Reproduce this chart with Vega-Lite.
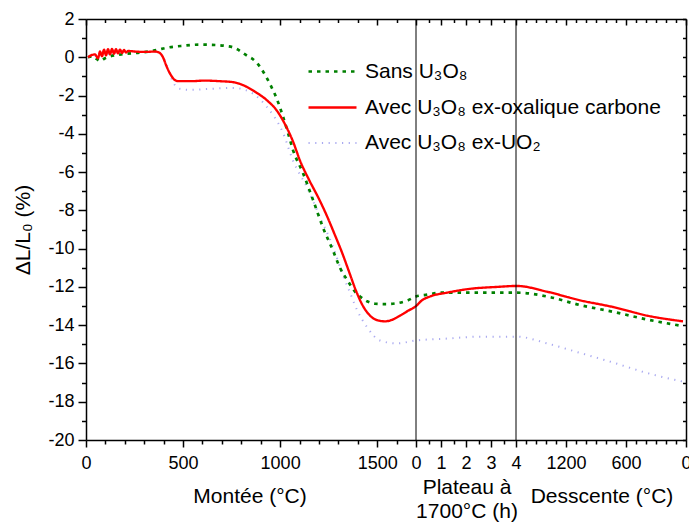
{
  "$schema": "https://vega.github.io/schema/vega-lite/v6.json",
  "width": 600,
  "height": 421,
  "autosize": {"type": "none"},
  "padding": {"left": 86, "top": 19, "right": 3, "bottom": 83},
  "background": "white",
  "config": {
    "view": {"stroke": null},
    "font": "Liberation Sans",
    "axis": {
      "domainColor": "black", "domainWidth": 1.5,
      "tickColor": "black", "tickWidth": 1.5,
      "labelColor": "black", "labelFont": "Liberation Sans", "labelFontSize": 18,
      "titleFont": "Liberation Sans", "titleFontSize": 21, "titleFontWeight": "normal", "titleColor": "black",
      "grid": false, "labelOverlap": false, "labelFlush": false, "labelBound": false
    }
  },
  "datasets": {
    "curves": [
      {"s": "Avec U₃O₈ ex-UO₂", "x": 2, "y": 0.0},
      {"s": "Avec U₃O₈ ex-UO₂", "x": 14, "y": 0.12},
      {"s": "Avec U₃O₈ ex-UO₂", "x": 44, "y": 0.28},
      {"s": "Avec U₃O₈ ex-UO₂", "x": 72, "y": 0.28},
      {"s": "Avec U₃O₈ ex-UO₂", "x": 77, "y": 0.0},
      {"s": "Avec U₃O₈ ex-UO₂", "x": 82, "y": -0.6},
      {"s": "Avec U₃O₈ ex-UO₂", "x": 87, "y": -1.3},
      {"s": "Avec U₃O₈ ex-UO₂", "x": 94, "y": -1.65},
      {"s": "Avec U₃O₈ ex-UO₂", "x": 104, "y": -1.7},
      {"s": "Avec U₃O₈ ex-UO₂", "x": 124, "y": -1.65},
      {"s": "Avec U₃O₈ ex-UO₂", "x": 147, "y": -1.6},
      {"s": "Avec U₃O₈ ex-UO₂", "x": 159, "y": -1.7},
      {"s": "Avec U₃O₈ ex-UO₂", "x": 167, "y": -1.9},
      {"s": "Avec U₃O₈ ex-UO₂", "x": 181, "y": -2.6},
      {"s": "Avec U₃O₈ ex-UO₂", "x": 197, "y": -3.95},
      {"s": "Avec U₃O₈ ex-UO₂", "x": 207, "y": -5.4},
      {"s": "Avec U₃O₈ ex-UO₂", "x": 221, "y": -6.8},
      {"s": "Avec U₃O₈ ex-UO₂", "x": 234, "y": -8.35},
      {"s": "Avec U₃O₈ ex-UO₂", "x": 247, "y": -9.9},
      {"s": "Avec U₃O₈ ex-UO₂", "x": 257, "y": -11.4},
      {"s": "Avec U₃O₈ ex-UO₂", "x": 264, "y": -12.3},
      {"s": "Avec U₃O₈ ex-UO₂", "x": 271, "y": -13.2},
      {"s": "Avec U₃O₈ ex-UO₂", "x": 281, "y": -14.1},
      {"s": "Avec U₃O₈ ex-UO₂", "x": 294, "y": -14.8},
      {"s": "Avec U₃O₈ ex-UO₂", "x": 311, "y": -14.95},
      {"s": "Avec U₃O₈ ex-UO₂", "x": 330, "y": -14.8},
      {"s": "Avec U₃O₈ ex-UO₂", "x": 361, "y": -14.7},
      {"s": "Avec U₃O₈ ex-UO₂", "x": 394, "y": -14.6},
      {"s": "Avec U₃O₈ ex-UO₂", "x": 431, "y": -14.6},
      {"s": "Avec U₃O₈ ex-UO₂", "x": 461, "y": -14.95},
      {"s": "Avec U₃O₈ ex-UO₂", "x": 494, "y": -15.45},
      {"s": "Avec U₃O₈ ex-UO₂", "x": 527, "y": -15.95},
      {"s": "Avec U₃O₈ ex-UO₂", "x": 561, "y": -16.5},
      {"s": "Avec U₃O₈ ex-UO₂", "x": 597, "y": -16.95},

      {"s": "Sans U₃O₈", "x": 2, "y": 0.0},
      {"s": "Sans U₃O₈", "x": 7, "y": 0.05},
      {"s": "Sans U₃O₈", "x": 11, "y": -0.1},
      {"s": "Sans U₃O₈", "x": 14, "y": -0.2},
      {"s": "Sans U₃O₈", "x": 19, "y": -0.05},
      {"s": "Sans U₃O₈", "x": 24, "y": 0.05},
      {"s": "Sans U₃O₈", "x": 37, "y": 0.16},
      {"s": "Sans U₃O₈", "x": 57, "y": 0.26},
      {"s": "Sans U₃O₈", "x": 71, "y": 0.38},
      {"s": "Sans U₃O₈", "x": 81, "y": 0.5},
      {"s": "Sans U₃O₈", "x": 97, "y": 0.6},
      {"s": "Sans U₃O₈", "x": 113, "y": 0.66},
      {"s": "Sans U₃O₈", "x": 130, "y": 0.64},
      {"s": "Sans U₃O₈", "x": 141, "y": 0.58},
      {"s": "Sans U₃O₈", "x": 147, "y": 0.52},
      {"s": "Sans U₃O₈", "x": 152, "y": 0.4},
      {"s": "Sans U₃O₈", "x": 157, "y": 0.22},
      {"s": "Sans U₃O₈", "x": 162, "y": 0.05},
      {"s": "Sans U₃O₈", "x": 167, "y": -0.1},
      {"s": "Sans U₃O₈", "x": 174, "y": -0.5},
      {"s": "Sans U₃O₈", "x": 181, "y": -1.1},
      {"s": "Sans U₃O₈", "x": 184, "y": -1.4},
      {"s": "Sans U₃O₈", "x": 191, "y": -2.2},
      {"s": "Sans U₃O₈", "x": 197, "y": -3.1},
      {"s": "Sans U₃O₈", "x": 202, "y": -3.95},
      {"s": "Sans U₃O₈", "x": 207, "y": -4.85},
      {"s": "Sans U₃O₈", "x": 217, "y": -6.05},
      {"s": "Sans U₃O₈", "x": 227, "y": -7.45},
      {"s": "Sans U₃O₈", "x": 237, "y": -8.9},
      {"s": "Sans U₃O₈", "x": 247, "y": -10.1},
      {"s": "Sans U₃O₈", "x": 254, "y": -11.0},
      {"s": "Sans U₃O₈", "x": 262, "y": -11.7},
      {"s": "Sans U₃O₈", "x": 269, "y": -12.25},
      {"s": "Sans U₃O₈", "x": 274, "y": -12.5},
      {"s": "Sans U₃O₈", "x": 281, "y": -12.75},
      {"s": "Sans U₃O₈", "x": 289, "y": -12.88},
      {"s": "Sans U₃O₈", "x": 299, "y": -12.9},
      {"s": "Sans U₃O₈", "x": 311, "y": -12.85},
      {"s": "Sans U₃O₈", "x": 322, "y": -12.7},
      {"s": "Sans U₃O₈", "x": 330, "y": -12.5},
      {"s": "Sans U₃O₈", "x": 342, "y": -12.4},
      {"s": "Sans U₃O₈", "x": 354, "y": -12.3},
      {"s": "Sans U₃O₈", "x": 384, "y": -12.3},
      {"s": "Sans U₃O₈", "x": 414, "y": -12.3},
      {"s": "Sans U₃O₈", "x": 431, "y": -12.3},
      {"s": "Sans U₃O₈", "x": 461, "y": -12.5},
      {"s": "Sans U₃O₈", "x": 494, "y": -12.95},
      {"s": "Sans U₃O₈", "x": 527, "y": -13.3},
      {"s": "Sans U₃O₈", "x": 561, "y": -13.7},
      {"s": "Sans U₃O₈", "x": 597, "y": -14.05},

      {"s": "Avec U₃O₈ ex-oxalique carbone", "x": 2, "y": 0.0},
      {"s": "Avec U₃O₈ ex-oxalique carbone", "x": 6, "y": 0.12},
      {"s": "Avec U₃O₈ ex-oxalique carbone", "x": 9, "y": 0.15},
      {"s": "Avec U₃O₈ ex-oxalique carbone", "x": 12, "y": -0.05},
      {"s": "Avec U₃O₈ ex-oxalique carbone", "x": 14, "y": 0.3},
      {"s": "Avec U₃O₈ ex-oxalique carbone", "x": 16, "y": 0.05},
      {"s": "Avec U₃O₈ ex-oxalique carbone", "x": 18, "y": 0.4},
      {"s": "Avec U₃O₈ ex-oxalique carbone", "x": 20, "y": 0.1},
      {"s": "Avec U₃O₈ ex-oxalique carbone", "x": 22, "y": 0.42},
      {"s": "Avec U₃O₈ ex-oxalique carbone", "x": 24, "y": 0.15},
      {"s": "Avec U₃O₈ ex-oxalique carbone", "x": 26, "y": 0.43},
      {"s": "Avec U₃O₈ ex-oxalique carbone", "x": 28, "y": 0.18},
      {"s": "Avec U₃O₈ ex-oxalique carbone", "x": 30, "y": 0.42},
      {"s": "Avec U₃O₈ ex-oxalique carbone", "x": 32, "y": 0.2},
      {"s": "Avec U₃O₈ ex-oxalique carbone", "x": 34, "y": 0.4},
      {"s": "Avec U₃O₈ ex-oxalique carbone", "x": 36, "y": 0.22},
      {"s": "Avec U₃O₈ ex-oxalique carbone", "x": 38, "y": 0.38},
      {"s": "Avec U₃O₈ ex-oxalique carbone", "x": 40, "y": 0.25},
      {"s": "Avec U₃O₈ ex-oxalique carbone", "x": 42, "y": 0.33},
      {"s": "Avec U₃O₈ ex-oxalique carbone", "x": 49, "y": 0.3},
      {"s": "Avec U₃O₈ ex-oxalique carbone", "x": 59, "y": 0.28},
      {"s": "Avec U₃O₈ ex-oxalique carbone", "x": 69, "y": 0.3},
      {"s": "Avec U₃O₈ ex-oxalique carbone", "x": 73, "y": 0.25},
      {"s": "Avec U₃O₈ ex-oxalique carbone", "x": 77, "y": 0.0},
      {"s": "Avec U₃O₈ ex-oxalique carbone", "x": 80, "y": -0.4},
      {"s": "Avec U₃O₈ ex-oxalique carbone", "x": 84, "y": -0.85},
      {"s": "Avec U₃O₈ ex-oxalique carbone", "x": 88, "y": -1.15},
      {"s": "Avec U₃O₈ ex-oxalique carbone", "x": 92, "y": -1.25},
      {"s": "Avec U₃O₈ ex-oxalique carbone", "x": 104, "y": -1.25},
      {"s": "Avec U₃O₈ ex-oxalique carbone", "x": 119, "y": -1.22},
      {"s": "Avec U₃O₈ ex-oxalique carbone", "x": 134, "y": -1.25},
      {"s": "Avec U₃O₈ ex-oxalique carbone", "x": 147, "y": -1.3},
      {"s": "Avec U₃O₈ ex-oxalique carbone", "x": 159, "y": -1.5},
      {"s": "Avec U₃O₈ ex-oxalique carbone", "x": 169, "y": -1.8},
      {"s": "Avec U₃O₈ ex-oxalique carbone", "x": 181, "y": -2.25},
      {"s": "Avec U₃O₈ ex-oxalique carbone", "x": 191, "y": -2.8},
      {"s": "Avec U₃O₈ ex-oxalique carbone", "x": 199, "y": -3.5},
      {"s": "Avec U₃O₈ ex-oxalique carbone", "x": 207, "y": -4.4},
      {"s": "Avec U₃O₈ ex-oxalique carbone", "x": 214, "y": -5.4},
      {"s": "Avec U₃O₈ ex-oxalique carbone", "x": 223, "y": -6.4},
      {"s": "Avec U₃O₈ ex-oxalique carbone", "x": 232, "y": -7.3},
      {"s": "Avec U₃O₈ ex-oxalique carbone", "x": 241, "y": -8.3},
      {"s": "Avec U₃O₈ ex-oxalique carbone", "x": 249, "y": -9.3},
      {"s": "Avec U₃O₈ ex-oxalique carbone", "x": 256, "y": -10.2},
      {"s": "Avec U₃O₈ ex-oxalique carbone", "x": 263, "y": -11.2},
      {"s": "Avec U₃O₈ ex-oxalique carbone", "x": 270, "y": -12.2},
      {"s": "Avec U₃O₈ ex-oxalique carbone", "x": 277, "y": -13.0},
      {"s": "Avec U₃O₈ ex-oxalique carbone", "x": 284, "y": -13.5},
      {"s": "Avec U₃O₈ ex-oxalique carbone", "x": 292, "y": -13.75},
      {"s": "Avec U₃O₈ ex-oxalique carbone", "x": 299, "y": -13.8},
      {"s": "Avec U₃O₈ ex-oxalique carbone", "x": 306, "y": -13.72},
      {"s": "Avec U₃O₈ ex-oxalique carbone", "x": 314, "y": -13.5},
      {"s": "Avec U₃O₈ ex-oxalique carbone", "x": 322, "y": -13.25},
      {"s": "Avec U₃O₈ ex-oxalique carbone", "x": 330, "y": -13.0},
      {"s": "Avec U₃O₈ ex-oxalique carbone", "x": 336, "y": -12.7},
      {"s": "Avec U₃O₈ ex-oxalique carbone", "x": 344, "y": -12.5},
      {"s": "Avec U₃O₈ ex-oxalique carbone", "x": 361, "y": -12.3},
      {"s": "Avec U₃O₈ ex-oxalique carbone", "x": 384, "y": -12.1},
      {"s": "Avec U₃O₈ ex-oxalique carbone", "x": 411, "y": -12.0},
      {"s": "Avec U₃O₈ ex-oxalique carbone", "x": 431, "y": -11.95},
      {"s": "Avec U₃O₈ ex-oxalique carbone", "x": 461, "y": -12.25},
      {"s": "Avec U₃O₈ ex-oxalique carbone", "x": 494, "y": -12.7},
      {"s": "Avec U₃O₈ ex-oxalique carbone", "x": 527, "y": -13.05},
      {"s": "Avec U₃O₈ ex-oxalique carbone", "x": 561, "y": -13.5},
      {"s": "Avec U₃O₈ ex-oxalique carbone", "x": 597, "y": -13.8}
    ]
  },
  "layer": [
    {
      "data": {"name": "curves"},
      "mark": {"type": "line", "interpolate": "monotone"},
      "encoding": {
        "x": {
          "field": "x", "type": "quantitative",
          "scale": {"domain": [0, 600], "nice": false, "zero": false},
          "axis": {
            "orient": "bottom", "title": null,
            "values": [0, 19.412, 38.824, 58.235, 77.647, 97.059, 116.471, 135.882, 155.294, 174.706, 194.118, 213.529, 232.941, 252.353, 271.765, 291.176, 310.588, 330, 342.5, 355, 367.5, 380, 392.5, 405, 417.5, 430, 440, 450, 460, 470, 480, 490, 500, 510, 520, 530, 540, 550, 560, 570, 580, 590, 600],
            "labelExpr": "{'0':'0','97':'500','194':'1000','291':'1500','330':'0','355':'1','380':'2','405':'3','430':'4','480':'1200','540':'600','600':'0'}['' + round(datum.value)] || ''",
            "tickSize": {"condition": {"test": "indexof([0,97,194,291,330,355,380,405,430,480,540,600], round(datum.value)) >= 0", "value": 7}, "value": 4},
            "labelPadding": 7
          }
        },
        "y": {
          "field": "y", "type": "quantitative",
          "scale": {"domain": [-20, 2], "nice": false, "zero": false},
          "axis": {
            "orient": "left", "title": "ΔL/L₀ (%)",
            "values": [-20, -19, -18, -17, -16, -15, -14, -13, -12, -11, -10, -9, -8, -7, -6, -5, -4, -3, -2, -1, 0, 1, 2],
            "labelExpr": "datum.value % 2 == 0 ? '' + datum.value : ''",
            "tickSize": {"condition": {"test": "datum.value % 2 == 0", "value": 8}, "value": 4.5},
            "labelPadding": 4, "titlePadding": 14
          }
        },
        "color": {
          "field": "s", "type": "nominal",
          "scale": {"domain": ["Sans U₃O₈", "Avec U₃O₈ ex-oxalique carbone", "Avec U₃O₈ ex-UO₂"], "range": ["#008000", "#ff0000", "#aaaaf0"]},
          "legend": {
            "title": null, "orient": "none", "legendX": 221, "legendY": 27, "direction": "vertical",
            "symbolType": "stroke", "symbolSize": 2304, "labelFontSize": 21, "labelFont": "Liberation Sans",
            "labelColor": "black", "labelOffset": 7, "rowPadding": 0, "padding": 0, "labelLimit": 400
          }
        },
        "strokeDash": {
          "field": "s", "type": "nominal",
          "scale": {"domain": ["Sans U₃O₈", "Avec U₃O₈ ex-oxalique carbone", "Avec U₃O₈ ex-UO₂"], "range": [[3.5, 5], [1, 0], [1.2, 5.5]]}
        },
        "strokeWidth": {
          "field": "s", "type": "nominal",
          "scale": {"domain": ["Sans U₃O₈", "Avec U₃O₈ ex-oxalique carbone", "Avec U₃O₈ ex-UO₂"], "range": [2.7, 2, 4.5]}
        }
      }
    },
    {
      "data": {"values": [{}]},
      "mark": {"type": "point", "opacity": 0},
      "encoding": {
        "x": {
          "datum": 0, "type": "quantitative",
          "axis": {
            "orient": "top", "title": null, "labels": false,
            "values": [0, 19.412, 38.824, 58.235, 77.647, 97.059, 116.471, 135.882, 155.294, 174.706, 194.118, 213.529, 232.941, 252.353, 271.765, 291.176, 310.588, 330, 342.5, 355, 367.5, 380, 392.5, 405, 417.5, 430, 440, 450, 460, 470, 480, 490, 500, 510, 520, 530, 540, 550, 560, 570, 580, 590, 600],
            "tickSize": {"condition": {"test": "indexof([0,97,194,291,330,355,380,405,430,480,540,600], round(datum.value)) >= 0", "value": -6}, "value": -3.5}
          }
        },
        "y": {
          "datum": 0, "type": "quantitative",
          "axis": {
            "orient": "right", "title": null, "labels": false,
            "values": [-20, -19, -18, -17, -16, -15, -14, -13, -12, -11, -10, -9, -8, -7, -6, -5, -4, -3, -2, -1, 0, 1, 2],
            "tickSize": -3.5
          }
        }
      }
    },
    {
      "data": {"values": [{}]},
      "mark": {"type": "rule", "color": "black", "strokeWidth": 1},
      "encoding": {"x": {"datum": 330, "type": "quantitative", "axis": null}}
    },
    {
      "data": {"values": [{}]},
      "mark": {"type": "rule", "color": "black", "strokeWidth": 1},
      "encoding": {"x": {"datum": 430, "type": "quantitative", "axis": null}}
    },
    {
      "data": {"values": [{}]},
      "mark": {"type": "text", "fontSize": 21, "font": "Liberation Sans", "align": "center", "baseline": "middle", "color": "black"},
      "encoding": {
        "x": {"datum": 164, "type": "quantitative", "axis": null},
        "y": {"datum": -23, "type": "quantitative", "axis": null},
        "text": {"value": "Montée (°C)"}
      }
    },
    {
      "data": {"values": [{}]},
      "mark": {"type": "text", "fontSize": 21, "font": "Liberation Sans", "align": "center", "baseline": "middle", "color": "black"},
      "encoding": {
        "x": {"datum": 381, "type": "quantitative", "axis": null},
        "y": {"datum": -22.5, "type": "quantitative", "axis": null},
        "text": {"value": "Plateau à"}
      }
    },
    {
      "data": {"values": [{}]},
      "mark": {"type": "text", "fontSize": 21, "font": "Liberation Sans", "align": "center", "baseline": "middle", "color": "black"},
      "encoding": {
        "x": {"datum": 381, "type": "quantitative", "axis": null},
        "y": {"datum": -23.76, "type": "quantitative", "axis": null},
        "text": {"value": "1700°C (h)"}
      }
    },
    {
      "data": {"values": [{}]},
      "mark": {"type": "text", "fontSize": 21, "font": "Liberation Sans", "align": "center", "baseline": "middle", "color": "black"},
      "encoding": {
        "x": {"datum": 516, "type": "quantitative", "axis": null},
        "y": {"datum": -23, "type": "quantitative", "axis": null},
        "text": {"value": "Desscente (°C)"}
      }
    }
  ],
  "resolve": {"axis": {"x": "independent", "y": "independent"}}
}
